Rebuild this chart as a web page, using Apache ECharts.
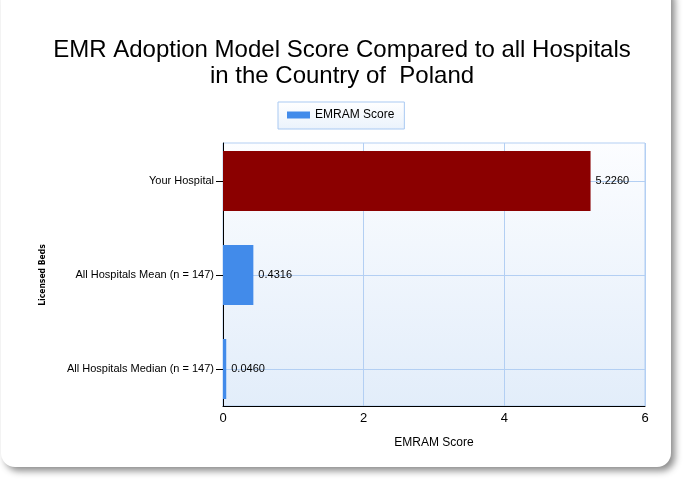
<!DOCTYPE html>
<html>
<head>
<meta charset="utf-8">
<script src="https://cdn.jsdelivr.net/npm/echarts@6/dist/echarts.min.js"></script>
<style>html,body{margin:0;padding:0;background:#fff;}#c{width:684px;height:480px;}</style>
</head>
<body>
<div id="c"></div>
<script>
const titleText = 'EMR Adoption Model Score Compared to all Hospitals\nin the Country of  Poland';
const categories = ['Your Hospital', 'All Hospitals Mean (n = 147)', 'All Hospitals Median (n = 147)'];
const scores = [5.2260, 0.4316, 0.0460];
const barColors = ['#8b0000', '#428bea', '#428bea'];
const seriesName = 'EMRAM Score';
const xTicks = [0, 2, 4, 6];
const xAxisName = 'EMRAM Score';
const yAxisName = 'Licensed Beds';

const gridLineColor = '#b3cff3';
const chart = echarts.init(document.getElementById('c'), null, {renderer: 'canvas'});
chart.setOption({
  animation: false,
  backgroundColor: '#ffffff',
  graphic: [{
    type: 'rect', z: -10, silent: true,
    shape: {x: 1, y: -16, width: 670, height: 483, r: 14},
    style: {fill: '#ffffff', shadowBlur: 7, shadowOffsetX: 4, shadowOffsetY: 4, shadowColor: 'rgba(0,0,0,0.45)'}
  }],
  title: {
    text: titleText, left: 'center', top: 32,
    textStyle: {fontFamily: 'Liberation Sans', fontSize: 24, fontWeight: 'normal', color: '#000', lineHeight: 26}
  },
  legend: {
    left: 278, top: 102,
    padding: [7, 10, 8, 9],
    itemWidth: 23, itemHeight: 7,
    icon: 'rect',
    borderColor: '#a9c9f2', borderWidth: 1, borderRadius: 0,
    backgroundColor: {type: 'linear', x: 0, y: 0, x2: 0, y2: 1, colorStops: [{offset: 0, color: '#ffffff'}, {offset: 1, color: '#eaf2fc'}]},
    textStyle: {fontFamily: 'Liberation Sans', fontSize: 12, color: '#000'},
    data: [{name: seriesName, itemStyle: {color: '#428bea'}}]
  },
  grid: [
    {left: 223, right: 39, top: 143, bottom: 74, show: true, borderColor: gridLineColor, borderWidth: 1,
     backgroundColor: {type: 'linear', x: 0, y: 0, x2: 0, y2: 1, colorStops: [{offset: 0, color: '#fcfdff'}, {offset: 1, color: '#e2edfa'}]}},
    {left: 223, right: 39, top: 134, bottom: 64}
  ],
  xAxis: [
    {gridIndex: 0, type: 'value', min: xTicks[0], max: xTicks[xTicks.length - 1], interval: 2,
     axisLine: {show: true, lineStyle: {color: '#000', width: 1}}, axisTick: {show: false},
     axisLabel: {fontFamily: 'Liberation Sans', fontSize: 13, color: '#000', margin: 6},
     splitLine: {show: true, lineStyle: {color: gridLineColor, width: 1}},
     name: xAxisName, nameLocation: 'middle', nameGap: 31,
     nameTextStyle: {fontFamily: 'Liberation Sans', fontSize: 12, color: '#000'}, z: 0},
    {gridIndex: 1, type: 'value', min: xTicks[0], max: xTicks[xTicks.length - 1], show: false}
  ],
  yAxis: [
    {gridIndex: 0, type: 'value', min: 0, max: 1, axisLine: {show: true, lineStyle: {color: '#000', width: 1}},
     axisTick: {show: false}, axisLabel: {show: false}, splitLine: {show: false}, z: 0},
    {gridIndex: 1, type: 'category', data: categories, inverse: true,
     axisLine: {show: false}, axisTick: {show: true, alignWithLabel: true, length: 7, lineStyle: {color: '#000'}},
     axisLabel: {fontFamily: 'Liberation Sans', fontSize: 11, color: '#000', margin: 9},
     splitLine: {show: false},
     name: yAxisName, nameLocation: 'middle', nameGap: 176, nameRotate: 90,
     nameTextStyle: {fontFamily: 'DejaVu Sans Condensed, Liberation Sans', fontWeight: 'bold', fontSize: 8.5, color: '#000'}}
  ],
  series: [{
    name: seriesName, type: 'bar', xAxisIndex: 1, yAxisIndex: 1,
    barWidth: 60, z: 4,
    data: scores.map((v, i) => ({value: v, itemStyle: {color: barColors[i]}})),
    label: {show: true, position: 'right', distance: 5, formatter: p => p.value.toFixed(4),
            fontFamily: 'Liberation Sans', fontSize: 11, color: '#000'},
    markLine: {silent: true, symbol: 'none', label: {show: false}, z: 1,
      lineStyle: {color: gridLineColor, type: 'solid', width: 1},
      data: categories.map(c => ({yAxis: c}))}
  }]
});
</script>
</body>
</html>
